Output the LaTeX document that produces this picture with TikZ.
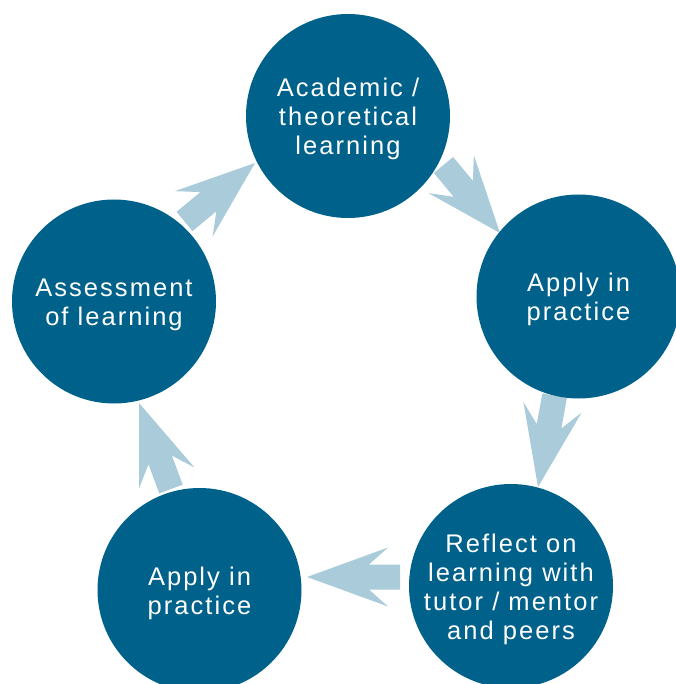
\documentclass[tikz,border=0pt]{standalone}
\usepackage{fontspec}
\setmainfont{Liberation Sans}[LetterSpace=8]
\usetikzlibrary{calc}
\definecolor{circblue}{HTML}{00618B}
\definecolor{arrowblue}{HTML}{AACBD9}
\tikzset{
  stage/.style={circle, fill=circblue, minimum size=204pt, inner sep=0pt},
  stagetext/.style={text=white, align=center, inner sep=0pt, yshift=-3pt,
    font=\fontsize{25.5}{29}\selectfont},
  blockarrowfill/.style={fill=arrowblue}
}
\newcommand\myblockarrow[2]{%
  \coordinate (ba-n) at ($(#1)!31pt!(#2)$);
  \coordinate (ba-b) at ($(#1)!12pt!(#2)$);
  \fill[blockarrowfill] ($(#1)!12.5pt!90:(#2)$) -- ($(ba-n)!12.5pt!90:(#2)$)
    -- ($(ba-b)!29.5pt!90:(#2)$) -- (#2) -- ($(ba-b)!29.5pt!-90:(#2)$)
    -- ($(ba-n)!12.5pt!-90:(#2)$) -- ($(#1)!12.5pt!-90:(#2)$) -- cycle;}
\begin{document}
\begin{tikzpicture}[x=1pt,y=-1pt]
\useasboundingbox (0,0) rectangle (675,684);
\coordinate (t1) at (443.5,165);   \coordinate (h1) at (500,233);
\coordinate (t2) at (554.6,395.7); \coordinate (h2) at (538,487);
\coordinate (t3) at (400,577);     \coordinate (h3) at (307,577);
\coordinate (t4) at (171,489);     \coordinate (h4) at (139,403);
\coordinate (t5) at (184.5,221.5); \coordinate (h5) at (255,163);
\myblockarrow{t1}{h1}
\myblockarrow{t2}{h2}
\myblockarrow{t3}{h3}
\myblockarrow{t4}{h4}
\myblockarrow{t5}{h5}
\node[stage] (academic) at (348,116) {};
\node[stage] (apply1) at (578.5,296.5) {};
\node[stage] (reflect) at (511,586) {};
\node[stage] (apply2) at (199.5,590) {};
\node[stage] (assess) at (114,301.5) {};
\node[stagetext] (academic-t) at (academic.center) {Academic /\\theoretical\\learning};
\node[stagetext] (apply1-t) at (apply1.center) {Apply in\\practice};
\node[stagetext] (reflect-t) at (reflect.center) {Reflect on\\learning with\\tutor / mentor\\and peers};
\node[stagetext] (apply2-t) at (apply2.center) {Apply in\\practice};
\node[stagetext] (assess-t) at (assess.center) {Assessment\\of learning};
\end{tikzpicture}
\end{document}
